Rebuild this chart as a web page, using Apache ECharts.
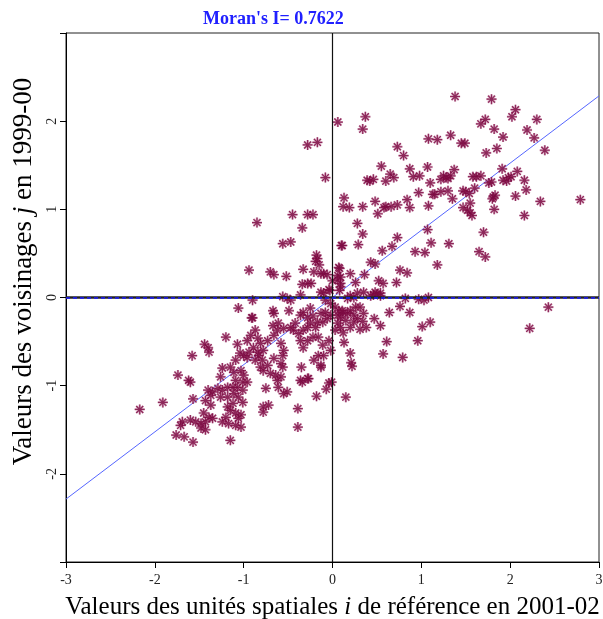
<!DOCTYPE html>
<html>
<head>
<meta charset="utf-8">
<script src="https://cdn.jsdelivr.net/npm/echarts@6/dist/echarts.min.js"></script>
<style>
html,body{margin:0;padding:0;background:#fff;}
#chart{width:603px;height:619px;}
</style>
</head>
<body>
<div id="chart"></div>
<script>
// Data
const xValues = [
1.38,1.79,2.06,2.02,2.30,1.72,1.67,1.82,2.19,1.92,2.27,1.33,1.08,1.18,1.45,1.49,1.85,1.73,2.39,1.07,1.91,2.08,1.37,
1.25,1.28,1.33,1.22,1.30,1.10,1.58,1.62,1.67,1.92,1.98,1.96,2.01,2.16,1.76,1.79,1.60,1.47,1.50,1.54,1.30,1.22,1.13,1.15,1.35,
1.81,1.83,1.80,2.06,2.18,1.55,1.47,1.52,1.55,1.57,1.08,1.82,2.16,2.34,2.79,1.07,1.70,1.11,1.31,1.04,1.65,1.72,1.18,
0.06,0.37,0.34,0.73,0.80,0.55,0.87,0.65,0.69,0.91,0.98,0.39,0.42,0.46,0.60,0.13,0.12,0.19,0.34,0.48,0.60,0.66,0.73,0.58,
0.84,0.87,0.51,0.97,0.28,0.34,0.10,0.29,0.73,0.67,0.56,0.93,0.43,0.48,0.76,0.84,
0.07,0.06,0.00,0.09,-0.04,-0.10,-0.13,0.20,0.36,0.52,0.57,0.72,0.26,0.46,0.50,0.54,0.82,0.97,1.03,1.08,
0.20,0.24,0.17,0.28,0.35,0.43,0.48,0.54,2.43,
2.22,0.76,0.64,0.87,0.47,0.54,1.10,1.01,0.96,0.61,0.57,0.79,0.31,0.38,0.24,0.34,0.13,0.20,0.21,0.22,-0.01,-0.04,-0.07,0.15,-0.18,-0.13,-0.27,-0.34,
-0.56,-0.47,0.11,-0.18,-0.17,-0.19,-0.15,-0.94,-0.70,-0.66,-0.52,-0.33,-0.21,-0.10,-0.06,0.08,0.09,0.06,-0.34,-0.28,-0.24,-0.13,-0.03,0.09,0.08,
-0.36,-0.56,-0.51,-0.90,-0.47,-0.67,-0.66,-0.49,-0.90,-0.25,-0.33,-0.36,-0.28,-0.22,-0.13,-0.08,-0.02,-0.06,-0.11,-0.17,
0.03,0.07,0.06,0.09,0.12,0.20,0.26,0.28,0.15,0.06,0.09,0.03,0.12,0.20,
-0.87,-0.92,-0.84,-0.81,-0.89,-0.94,-1.00,-0.83,-0.78,-0.73,-0.66,-0.62,-0.67,-0.61,-0.55,-0.47,-0.42,-0.44,-0.38,-0.33,-0.28,-0.25,-0.19,
-0.36,-0.28,-0.33,-0.22,-0.16,-0.11,-0.04,-0.10,-0.02,-0.16,-0.21,-0.13,-0.58,-0.55,-0.56,-0.66,-0.58,-0.73,-0.81,
-0.08,-0.02,0.11,0.17,0.24,0.31,0.35,
-0.28,-0.17,-0.08,-0.85,-0.45,-0.28,-0.22,-0.34,
-1.06,-0.91,-1.20,-1.44,-1.40,-1.39,-1.58,-1.07,-1.04,-0.96,-0.84,-0.96,-0.87,-0.79,-0.78,-0.70,-0.64,-0.58,-0.62,-0.56,-1.09,-1.15,-1.24,-1.26,
-1.11,-1.03,-1.00,-1.09,-1.01,-0.96,-1.12,-1.07,-1.01,-1.18,-1.24,-1.29,-1.35,-1.40,-1.37,-1.26,-1.18,-1.11,-1.06,-1.01,-1.12,-1.18,-1.15,-1.09,-1.03,
-1.06,-1.20,-1.24,-1.17,-1.09,-1.03,-1.43,-1.37,-1.45,-1.39,-1.35,-1.43,-1.48,-1.54,-1.60,-1.69,-1.71,-1.48,-1.43,-1.15,-1.57,-1.67,-1.76,-1.91,-1.74,-1.57,
-0.78,-0.72,-0.78,-0.39,-0.39,-0.55,-0.51,-0.75,-0.61,-2.17,-1.62,-1.60,-0.36,-0.28,-0.35
];
const yValues = [
2.28,2.25,2.13,2.05,2.02,2.02,1.97,1.91,1.90,1.82,1.81,1.84,1.80,1.79,1.75,1.75,1.69,1.64,1.67,1.48,1.46,1.43,1.45,
1.38,1.36,1.38,1.34,1.35,1.30,1.37,1.37,1.38,1.33,1.36,1.32,1.37,1.33,1.30,1.31,1.24,1.21,1.20,1.18,1.21,1.20,1.17,1.17,1.12,
1.14,1.16,1.12,1.15,1.22,1.07,1.02,0.99,0.96,0.93,1.04,1.00,0.93,1.09,1.11,0.77,0.74,0.62,0.61,0.51,0.52,0.46,0.37,
1.99,2.05,1.91,1.71,1.61,1.49,1.46,1.40,1.36,1.37,1.38,1.33,1.32,1.34,1.32,1.13,1.03,1.02,1.03,1.09,1.03,1.03,1.05,1.02,
1.11,1.02,0.95,1.19,0.84,0.72,0.59,0.60,0.68,0.58,0.53,0.52,0.40,0.38,0.31,0.28,
0.34,0.25,0.19,0.16,0.09,0.05,0.27,0.27,0.26,0.19,0.16,0.17,0.17,0.03,0.04,0.02,-0.01,-0.02,-0.03,0.00,
0.02,0.00,-0.01,0.05,0.06,0.02,0.06,0.05,-0.11,
-0.35,-0.10,-0.17,-0.17,-0.24,-0.32,-0.28,-0.33,-0.49,-0.50,-0.64,-0.68,-0.36,-0.34,-0.28,-0.27,-0.51,-0.63,-0.74,-0.78,-0.96,-0.97,-1.04,-1.13,-1.12,-0.79,-0.92,-0.96,
0.61,0.63,0.59,0.48,0.44,0.41,0.37,0.31,0.29,0.26,0.24,0.32,0.29,0.27,0.26,0.33,0.23,0.20,0.15,0.16,0.16,0.06,0.08,0.12,0.08,
0.03,0.01,-0.01,-0.03,-0.03,-0.15,-0.18,-0.15,-0.23,-0.12,-0.17,-0.20,-0.23,-0.21,-0.18,-0.17,-0.20,-0.24,-0.28,-0.28,
-0.11,-0.15,-0.20,-0.23,-0.17,-0.15,-0.11,-0.24,-0.26,-0.29,-0.34,-0.37,-0.40,-0.34,
-0.37,-0.43,-0.46,-0.52,-0.57,-0.62,-0.66,-0.66,-0.60,-0.49,-0.43,-0.37,-0.32,-0.29,-0.35,-0.34,-0.29,-0.37,-0.41,-0.37,-0.34,-0.29,-0.34,
-0.49,-0.49,-0.57,-0.45,-0.45,-0.54,-0.49,-0.66,-0.60,-0.66,-0.71,-0.77,-0.52,-0.60,-0.66,-0.69,-0.75,-0.77,-0.79,
-0.03,-0.07,-0.15,-0.18,-0.20,-0.11,-0.18,
1.73,1.76,1.36,0.85,0.94,0.94,0.94,0.79,
-0.12,-0.23,-0.45,-0.53,-0.57,-0.62,-0.66,-0.53,-0.63,-0.49,-0.62,-0.68,-0.71,-0.71,-0.83,-0.86,-0.88,-0.90,-0.94,-0.79,-0.71,-0.79,-0.80,-0.90,
-0.85,-0.83,-0.88,-0.94,-0.96,-0.96,-1.02,-1.02,-1.05,-1.02,-1.05,-1.03,-1.07,-1.05,-1.11,-1.13,-1.13,-1.09,-1.13,-1.19,-1.20,-1.24,-1.28,-1.31,-1.33,
-1.37,-1.36,-1.41,-1.43,-1.45,-1.47,-1.17,-1.22,-1.31,-1.36,-1.37,-1.41,-1.43,-1.41,-1.39,-1.41,-1.45,-1.48,-1.50,-1.62,-1.64,-1.58,-1.56,-1.19,-0.88,-1.15,
-1.24,-1.22,-1.30,-1.26,-1.47,-1.09,-1.07,-1.03,-1.02,-1.27,-0.94,-0.96,-0.94,-0.92,-0.79
];
const xTickLabels = [-3, -2, -1, 0, 1, 2, 3];
const yTickLabels = [-2, -1, 0, 1, 2];
const regX = [-3, 3];
const regY = [-2.2866, 2.2866];
const titleText = "Moran's I= 0.7622";
const xTitleParts = ['Valeurs des unités spatiales ', 'i', ' de référence en 2001-02'];
const yTitleParts = ['Valeurs des voisinages ', 'j', ' en 1999-00'];

const points = [];
const n = Math.min(xValues.length, yValues.length);
for (let k = 0; k < n; k++) points.push([xValues[k], yValues[k]]);
const regLine = regX.map((v, k) => [v, regY[k]]);

const serif = '"Liberation Serif","DejaVu Serif",serif';
const asterisk = 'path://M0,5L10,5M5,0L5,10M1.5,1.5L8.5,8.5M8.5,1.5L1.5,8.5';

function nameStyle(size, padding) {
  return {fontFamily: serif, fontSize: size, color: '#000', padding: padding,
    rich: {n: {fontFamily: serif, fontSize: size, color: '#000'},
           i: {fontFamily: serif, fontSize: size, fontStyle: 'italic', color: '#000'}}};
}

const chart = echarts.init(document.getElementById('chart'), null, {renderer: 'canvas'});
const axisCommon = {
  type: 'value', min: -3, max: 3, interval: 1,
  splitLine: {show: false},
  axisLine: {show: true, onZero: false, lineStyle: {color: '#000', width: 1}},
  axisTick: {show: true, inside: false, length: 6, lineStyle: {color: '#000'}},
  nameLocation: 'middle'
};
chart.setOption({
  animation: false,
  backgroundColor: '#fff',
  title: {text: titleText, left: 198, top: 5,
    textStyle: {fontFamily: serif, fontSize: 18, fontWeight: 'bold', color: '#2020ff'}},
  grid: {left: 66, right: 4, top: 33, bottom: 57, show: true, borderColor: '#222', borderWidth: 1,
    backgroundColor: 'transparent', containLabel: false, outerBoundsMode: 'none'},
  xAxis: Object.assign({}, axisCommon, {
    axisLabel: {color: '#222', fontFamily: serif, fontSize: 14, margin: 11,
      formatter: v => xTickLabels.includes(v) ? String(v) : ''},
    name: '{n|' + xTitleParts[0] + '}{i|' + xTitleParts[1] + '}{n|' + xTitleParts[2] + '}',
    nameTextStyle: nameStyle(25, 0),
    nameGap: 33
  }),
  yAxis: Object.assign({}, axisCommon, {
    axisLabel: {color: '#222', fontFamily: serif, fontSize: 14, margin: 7, rotate: 90,
      formatter: v => yTickLabels.includes(v) ? String(v) : ''},
    name: '{n|' + yTitleParts[0] + '}{i|' + yTitleParts[1] + '}{n|' + yTitleParts[2] + '}',
    nameTextStyle: nameStyle(27, [0, 0, 0, 52]),
    nameGap: 26
  }),
  series: [
    {
      type: 'line', data: regLine, symbol: 'none', silent: true, z: 1,
      lineStyle: {color: '#5566ff', width: 1},
      markLine: {
        silent: true, symbol: 'none', label: {show: false}, animation: false,
        data: [
          {xAxis: 0, lineStyle: {color: '#111', width: 1.2, type: 'solid'}},
          {yAxis: 0, lineStyle: {color: '#222', width: 2.5, type: 'solid'}},
          {yAxis: 0, lineStyle: {color: '#1a1aff', width: 1.5, type: [4, 3]}}
        ]
      }
    },
    {
      type: 'scatter', data: points, symbol: asterisk, symbolSize: 10, z: 3, silent: true,
      itemStyle: {color: 'rgba(0,0,0,0)', borderColor: 'rgba(190,110,150,0.75)', borderWidth: 2.3}
    },
    {
      type: 'scatter', data: points, symbol: asterisk, symbolSize: 10, z: 4, silent: true,
      itemStyle: {color: 'rgba(0,0,0,0)', borderColor: '#7a0840', borderWidth: 1.2}
    }
  ]
});
</script>
</body>
</html>
